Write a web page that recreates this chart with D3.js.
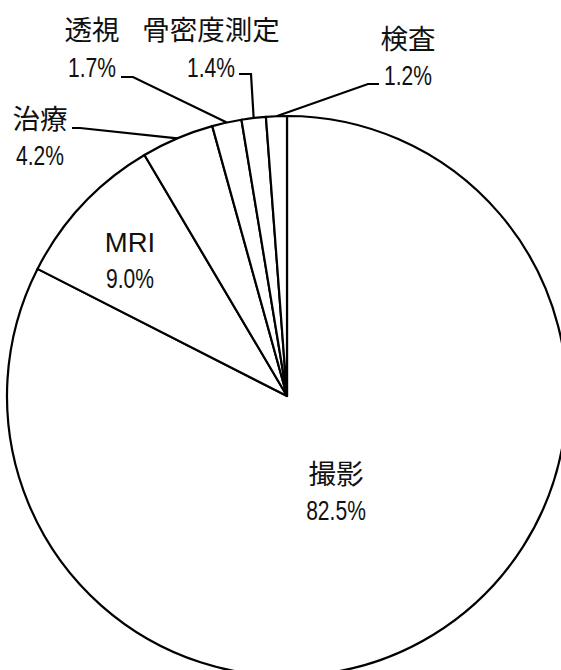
<!DOCTYPE html>
<html>
<head>
<meta charset="utf-8">
<script src="https://cdn.jsdelivr.net/npm/d3@7"></script>
<style>
  body { margin: 0; background: #fff; }
  svg { display: block; }
</style>
</head>
<body>
<svg id="chart"></svg>
<script>
// slices, clockwise from 12 o'clock
const categories = ['撮影', 'MRI', '治療', '透視', '骨密度測定', '検査'];
const shares = [82.5, 9.0, 4.2, 1.7, 1.4, 1.2];
const shareLabels = ['82.5%', '9.0%', '4.2%', '1.7%', '1.4%', '1.2%'];

const width = 561;
const height = 670;
const cx = 287;
const cy = 396;
const radius = 280;

// label layout: name baseline, value baseline, centre x, leader line start/elbow
const layout = {
  '撮影': { x: 336, y1: 484, y2: 520 },
  'MRI': { x: 130, y1: 252, y2: 288 },
  '治療': { x: 40, y1: 129, y2: 165, line: [[72, 128], [80, 128]] },
  '透視': { x: 92, y1: 40, y2: 77, line: [[121, 77], [133, 77]] },
  '骨密度測定': { x: 211, y1: 40, y2: 77, line: [[239, 74], [251, 74]] },
  '検査': { x: 408, y1: 49, y2: 85, line: [[379, 84], [368, 84]] }
};

const data = categories.map((c, i) => ({ name: c, value: shares[i], label: shareLabels[i] }));

const svg = d3.select('#chart')
  .attr('width', width)
  .attr('height', height);

const pie = d3.pie()
  .sort(null)
  .value((d) => d.value);

const arc = d3.arc()
  .innerRadius(0)
  .outerRadius(radius);

const arcs = pie(data);

const g = svg.append('g')
  .attr('transform', `translate(${cx},${cy})`);

g.selectAll('path')
  .data(arcs)
  .join('path')
  .attr('d', arc)
  .attr('fill', '#fff')
  .attr('stroke', '#000')
  .attr('stroke-width', 2.2)
  .attr('stroke-linejoin', 'round');

// leader lines to the middle of the slice edge
const edge = (d) => {
  const a = (d.startAngle + d.endAngle) / 2;
  return [cx + radius * Math.sin(a), cy - radius * Math.cos(a)];
};

svg.selectAll('polyline.leader')
  .data(arcs.filter((d) => layout[d.data.name].line))
  .join('polyline')
  .attr('class', 'leader')
  .attr('points', (d) => layout[d.data.name].line.concat([edge(d)]).map((p) => p.join(',')).join(' '))
  .attr('fill', 'none')
  .attr('stroke', '#000')
  .attr('stroke-width', 2.2);

const labels = svg.append('g');

labels.selectAll('text.name')
  .data(data)
  .join('text')
  .attr('class', 'name')
  .attr('x', (d) => layout[d.name].x)
  .attr('y', (d) => layout[d.name].y1)
  .attr('text-anchor', 'middle')
  .attr('font-family', (d) => d.name === 'MRI' ? '"Liberation Sans", Arial, sans-serif' : '"Noto Sans CJK JP", sans-serif')
  .attr('font-size', 27.5)
  .attr('fill', '#111')
  .text((d) => d.name);

// narrow half-width digits
labels.selectAll('text.value')
  .data(data)
  .join('text')
  .attr('class', 'value')
  .attr('transform', (d) => `translate(${layout[d.name].x},${layout[d.name].y2}) scale(0.78,1)`)
  .attr('text-anchor', 'middle')
  .attr('font-family', '"Liberation Sans", Arial, sans-serif')
  .attr('font-size', 27)
  .attr('fill', '#111')
  .text((d) => d.label);
</script>
</body>
</html>
